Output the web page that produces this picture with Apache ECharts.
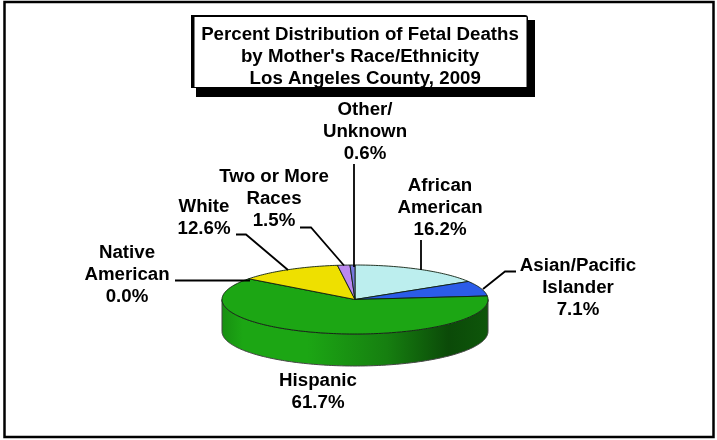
<!DOCTYPE html>
<html><head><meta charset="utf-8">
<style>html,body{margin:0;padding:0;background:#fff}#c{width:717px;height:440px}</style>
<script src="https://cdn.jsdelivr.net/npm/echarts@6/dist/echarts.min.js"></script>
</head><body><div id="c"></div>
<script>
const titleText = "Percent Distribution of Fetal Deaths\nby Mother's Race/Ethnicity\n  Los Angeles County, 2009";
const categories = ["African\nAmerican","Asian/Pacific\nIslander","Hispanic","Native\nAmerican","White","Two or More\nRaces","Other/\nUnknown"];
const percents = [16.2,7.1,61.7,0.0,12.6,1.5,0.6];
const colors = ["#BCEEEE","#2B5CE8","#1CA614","#B0B0B0","#EEE000","#BB88EE","#7777DD"];
// layout
const labelCenters = [[440,208],[578,288],[318,392],[127,275],[204,218],[274,199],[365,132]];
const leaders = [
 [[421,240],[421,270]],
 [[516,271.5],[505,271.5],[483,289]],
 null,
 [[175,280.5],[250,280.5]],
 [[236,234.5],[246,234.5],[288,270]],
 [[300,227.5],[311,227.5],[344,265.5]],
 [[354,164],[354,267]]
];
const PIE = {cx:355, cy:299.5, rx:133, ry:34.5, depth:32};
const total = percents.reduce((a,b)=>a+b,0);
function pt(t,dy){return [PIE.cx+PIE.rx*Math.sin(t), PIE.cy-PIE.ry*Math.cos(t)+(dy||0)];}
function arc(a,b,dy){const n=Math.max(2,Math.ceil((b-a)/0.02));const r=[];for(let i=0;i<=n;i++)r.push(pt(a+(b-a)*i/n,dy));return r;}
const wallGrad = new echarts.graphic.LinearGradient(0,0,1,0,[
 {offset:0,color:'#178f11'},{offset:0.08,color:'#1CA614'},{offset:0.32,color:'#1CA614'},
 {offset:0.62,color:'#167f10'},{offset:0.85,color:'#0B4A08'},{offset:1,color:'#0E560A'}]);
const starts=[];let acc=0;percents.forEach(p=>{starts.push(acc);acc+=p;});
function renderItem(params,api){
  const i=params.dataIndex, val=api.value(1);
  const a=starts[i]/total*2*Math.PI, b=(starts[i]+val)/total*2*Math.PI;
  const children=[];
  const wa=Math.max(a,Math.PI/2), wb=Math.min(b,Math.PI*1.5);
  if(wb>wa){
    const top=arc(wa,wb,0), bot=arc(wa,wb,PIE.depth).reverse();
    children.push({type:'polygon',shape:{points:top.concat(bot)},style:{fill:wallGrad,stroke:'#444',lineWidth:1}});
  }
  if(b>a){
    children.push({type:'polygon',shape:{points:[[PIE.cx,PIE.cy]].concat(arc(a,b,0))},
      style:{fill:colors[i],stroke:'#102010',lineWidth:0.9,lineJoin:'round'}});
  }
  return {type:'group',children};
}
function renderLabels(params,api){
  const i=params.dataIndex, c=labelCenters[i], children=[];
  if(leaders[i]) children.push({type:'polyline',shape:{points:leaders[i]},style:{fill:'none',stroke:'#000',lineWidth:1.8}});
  children.push({type:'text',style:{x:c[0],y:c[1],text:categories[i]+'\n'+api.value(1).toFixed(1)+'%',
    align:'center',verticalAlign:'middle',fontFamily:'Liberation Sans',fontWeight:'bold',fontSize:18.7,lineHeight:22,fill:'#000'}});
  return {type:'group',children};
}
const rows=percents.map((p,i)=>[i,p]);
const chart=echarts.init(document.getElementById('c'),null,{renderer:'canvas'});
chart.setOption({
  animation:false,backgroundColor:'#fff',
  title:{text:titleText,left:355,top:19,textAlign:'center',
    textStyle:{fontFamily:'Liberation Sans',fontWeight:'bold',fontSize:18.7,lineHeight:22,color:'#000'}},
  graphic:[
    {type:'rect',silent:true,z:-1,shape:{x:4.5,y:2,width:709,height:435},style:{fill:'#fff',stroke:'#000',lineWidth:2.5}},
    {type:'rect',silent:true,z:-1,shape:{x:196,y:20,width:339,height:77},style:{fill:'#000'}},
    {type:'rect',silent:true,z:-1,shape:{x:191,y:15,width:337,height:73,r:[0,3,0,0]},style:{fill:'#000'}},
    {type:'rect',silent:true,z:-1,shape:{x:194.5,y:17,width:332,height:70},style:{fill:'#fff'}}
  ],
  series:[
    {type:'custom',coordinateSystem:'none',renderItem,data:rows,silent:true,clip:false,z:2},
    {type:'custom',coordinateSystem:'none',renderItem:renderLabels,data:rows,silent:true,clip:false,z:3}
  ]
});
</script></body></html>
